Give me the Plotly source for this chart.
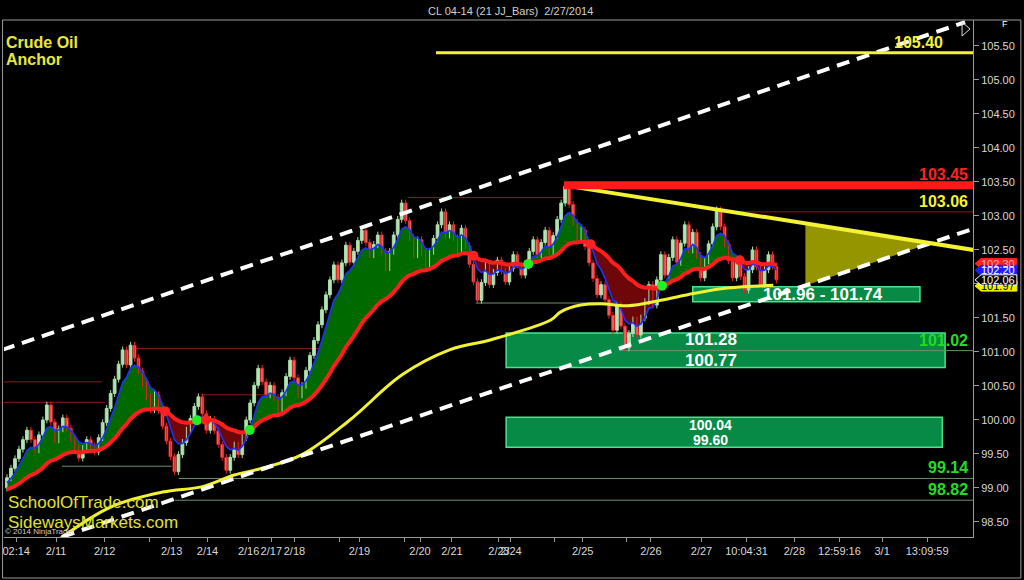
import plotly.graph_objects as go

# ---------------- data ----------------
# closes of the 21 JJ bars (each bar opens at the previous close)
BAR_CLOSES = [
    99.15,
    99.29, 99.43, 99.57, 99.71, 99.85,
    99.71, 99.56,
    99.78, 100.00, 100.22,
    99.97, 99.71,
    99.87, 100.03,
    99.88, 99.73, 99.59, 99.44,
    99.58, 99.71,
    99.62, 99.53,
    99.74, 99.96, 100.17, 100.39, 100.60, 100.82, 101.03,
    100.81,
    101.10,
    100.91, 100.72, 100.53, 100.34, 100.15,
    100.37,
    100.14, 99.91, 99.69, 99.46, 99.24,
    99.49,
    99.67, 99.85, 100.02, 100.20, 100.34,
    100.09, 99.85,
    100.01,
    99.84, 99.64, 99.45, 99.26,
    99.45, 99.63,
    99.49,
    99.74, 100.00, 100.25, 100.51, 100.76,
    100.56, 100.37,
    100.51,
    100.33, 100.15,
    100.40, 100.64, 100.88,
    100.62, 100.37,
    100.51,
    100.73, 100.95, 101.17, 101.40, 101.62, 101.84, 102.06, 102.28,
    102.06,
    102.31, 102.57,
    102.32,
    102.48, 102.64, 102.79,
    102.61, 102.43,
    102.58, 102.72,
    102.48, 102.24,
    102.48, 102.72, 102.95, 103.19,
    102.93, 102.68, 102.43,
    102.65,
    102.46, 102.28,
    102.48, 102.67, 102.87, 103.06,
    102.72,
    102.87,
    102.68, 102.50,
    102.82,
    102.56, 102.29, 102.03, 101.76,
    102.02, 102.28,
    101.99,
    102.17, 102.35,
    102.19, 102.03,
    102.23, 102.43,
    102.28, 102.13,
    102.30, 102.48, 102.65,
    102.43,
    102.61, 102.79,
    102.47,
    102.71, 102.95, 103.19, 103.43,
    103.17, 102.91, 102.65,
    102.79,
    102.55, 102.31, 102.08, 101.84,
    101.99,
    101.77, 101.54, 101.32,
    101.69,
    101.38, 101.06,
    101.27, 101.47,
    101.25,
    101.50, 101.74, 101.99,
    101.69,
    102.06, 102.43,
    102.13,
    102.39, 102.65,
    102.32,
    102.60, 102.87,
    102.50,
    102.76,
    102.42, 102.09,
    102.34, 102.59, 102.84, 103.09,
    102.84, 102.59, 102.34, 102.09,
    102.32,
    102.11, 101.91,
    102.21, 102.50,
    102.25, 101.99,
    102.21, 102.43,
    102.26, 102.06,
]
FIRST_OPEN = 99.00
WICK = 0.05

# moving averages: fast (blue) and slow (red) EMAs with their starting values
FAST_PERIOD, FAST_SEED = 6, 99.05
SLOW_PERIOD, SLOW_SEED = 30, 98.97

# long anchor average (yellow)
ANCHOR_BAR = [12, 26, 39, 49, 57, 64, 74, 86, 99, 111, 121.4, 136.4, 138.9, 143.9,
              148.9, 155.7, 164, 172.2, 180.7, 192.2]
ANCHOR_VAL = [98.20, 98.72, 98.94, 99.02, 99.19, 99.29, 99.49, 100.00, 100.66, 101.03,
              101.18, 101.47, 101.59, 101.69, 101.71, 101.68, 101.76, 101.86, 101.94, 101.98]

# support / resistance zones: (top, bottom, first bar, last bar)
ZONES = [(101.96, 101.74, 172.0, 229.0),
         (101.28, 100.77, 125.2, 235.3),
         (100.04, 99.60, 125.2, 234.6)]

# swing-high (red) and swing-low (grey) reference lines: (price, from bar, to bar)
SWING_HIGHS = [(100.56, -1, 23.8), (100.26, -1, 24.5), (101.05, 31.3, 85.1),
               (100.37, 48.8, 65.1), (103.27, 100.6, 139.7), (103.06, 179.0, 243)]
SWING_LOWS = [(99.32, 13.8, 41.3), (99.14, 43.1, 243), (98.82, 42.1, 243),
              (101.72, 117.6, 153.9), (101.02, 153.9, 243)]

# drawn channel and trend lines: ((bar, price), (bar, price))
UPPER_CHANNEL = ((-1.25, 101.03), (240.3, 105.85))
LOWER_CHANNEL = ((13.77, 98.28), (243.0, 102.825))
DOWN_TREND = ((139.7, 103.45), (243.0, 102.495))
WEDGE_START = 200.25
LEVEL_HIGH = (105.40, 107.6)
LEVEL_RED = (103.45, 139.7)

# time axis
TICK_BARS = [2.3, 12.3, 24.5, 35.8, 41.3, 50.3, 60.6, 66.3, 72.1, 83.4, 88.4, 99.6, 103.6,
             111.6, 123.4, 126.4, 137.4, 144.4, 155.4, 161.5, 174.2, 185.5, 197.5, 208.8,
             219.5, 230.8]
TICK_TEXT = ["02:14", "2/11", "2/12", "", "2/13", "2/14", "2/16", "2/17", "2/18", "",
             "2/19", "", "2/20", "2/21", "2/23", "2/24", "", "2/25", "", "2/26", "2/27",
             "10:04:31", "2/28", "12:59:16", "3/1", "13:09:59"]
PRICE_TICKS = [98.5, 99.0, 99.5, 100.0, 100.5, 101.0, 101.5, 102.0, 102.5, 103.0,
               103.5, 104.0, 104.5, 105.0, 105.5]

# right-edge price markers: (price, text, fill, text colour)
MARKERS = [(102.30, "102.30", "#ff2020", "#ffb0b0"),
           (101.97, "101.97", "#f0f000", "#000000"),
           (102.20, "102.20", "#1c1cff", "#ffffff"),
           (102.06, "102.06", "#000000", "#ffffff")]

X_RANGE = (-0.75, 242.3)
Y_RANGE = (98.279, 105.882)

FONT = "Arial, Liberation Sans, sans-serif"

# ---------------- derived series ----------------
n = len(BAR_CLOSES)
bars = list(range(n))
opens = [FIRST_OPEN] + BAR_CLOSES[:-1]
highs = [max(o, c) + WICK for o, c in zip(opens, BAR_CLOSES)]
lows = [min(o, c) - WICK for o, c in zip(opens, BAR_CLOSES)]


def ema(values, period, seed):
    a = 2.0 / (period + 1)
    out, e = [], seed
    for v in values:
        e += a * (v - e)
        out.append(e)
    return out


fast = ema(BAR_CLOSES, FAST_PERIOD, FAST_SEED)
slow = ema(BAR_CLOSES, SLOW_PERIOD, SLOW_SEED)

# split the band between the two averages into up / down pieces
segments, crossings = [], []
sign = fast[0] >= slow[0]
cx, ct, cb = [0], [fast[0]], [slow[0]]
for i in range(1, n):
    s = fast[i] >= slow[i]
    if s != sign:
        d0 = fast[i - 1] - slow[i - 1]
        d1 = fast[i] - slow[i]
        t = d0 / (d0 - d1)
        xc = i - 1 + t
        yc = slow[i - 1] + t * (slow[i] - slow[i - 1])
        cx.append(xc); ct.append(yc); cb.append(yc)
        segments.append((sign, cx, ct, cb))
        crossings.append((xc, yc, s))
        cx, ct, cb = [xc], [yc], [yc]
        sign = s
    cx.append(i); ct.append(fast[i]); cb.append(slow[i])
segments.append((sign, cx, ct, cb))

fig = go.Figure()

for up, color in ((True, "#006a00"), (False, "#6e0808")):
    px_, py_ = [], []
    for s, xs, ts, bs in segments:
        if s != up:
            continue
        px_ += xs + xs[::-1] + [None]
        py_ += ts + bs[::-1] + [None]
    fig.add_trace(go.Scatter(x=px_, y=py_, mode="lines", fill="toself",
                             fillcolor=color, line=dict(width=0), hoverinfo="skip"))

# bars: wicks, then bodies, split by direction
for rising, body, edge in ((True, "#c6eec6", "#a6dca6"), (False, "#f3a8a8", "#e32222")):
    idx = [i for i in bars if (BAR_CLOSES[i] >= opens[i]) == rising]
    wx, wy = [], []
    for i in idx:
        wx += [i, i, None]
        wy += [lows[i], highs[i], None]
    fig.add_trace(go.Scatter(x=wx, y=wy, mode="lines", line=dict(color=edge, width=1),
                             hoverinfo="skip"))
    fig.add_trace(go.Bar(x=idx,
                         y=[abs(BAR_CLOSES[i] - opens[i]) for i in idx],
                         base=[min(BAR_CLOSES[i], opens[i]) for i in idx],
                         width=0.7, marker=dict(color=body, line=dict(color=edge, width=1)),
                         hoverinfo="skip"))

fig.add_trace(go.Scatter(x=bars, y=fast, mode="lines",
                         line=dict(color="#2030ff", width=1.6), hoverinfo="skip"))
fig.add_trace(go.Scatter(x=bars, y=slow, mode="lines",
                         line=dict(color="#ff1e1e", width=4, shape="spline"),
                         hoverinfo="skip"))
fig.add_trace(go.Scatter(x=ANCHOR_BAR, y=ANCHOR_VAL, mode="lines",
                         line=dict(color="#f2f234", width=3, shape="spline"),
                         hoverinfo="skip"))
fig.add_trace(go.Scatter(
    x=[c[0] for c in crossings], y=[c[1] for c in crossings], mode="markers",
    marker=dict(size=10, color=["#22ee22" if c[2] else "#ff2020" for c in crossings]),
    hoverinfo="skip"))

shapes = []
# zones
for top, bot, x0, x1 in ZONES:
    shapes.append(dict(type="rect", xref="x", yref="y", x0=x0, x1=x1, y0=bot, y1=top,
                       fillcolor="#078a45", line=dict(color="#4fe08e", width=1.5),
                       layer="below"))
# swing lines
for p, x0, x1 in SWING_HIGHS:
    shapes.append(dict(type="line", xref="x", yref="y", x0=x0, x1=x1, y0=p, y1=p,
                       line=dict(color="#8e1c1c", width=1), layer="below"))
for p, x0, x1 in SWING_LOWS:
    shapes.append(dict(type="line", xref="x", yref="y", x0=x0, x1=x1, y0=p, y1=p,
                       line=dict(color="#6f8f6f", width=1), layer="below"))


def line_at(line, x):
    (x0, y0), (x1, y1) = line
    return y0 + (y1 - y0) * (x - x0) / (x1 - x0)


# wedge between the down trend and the lower channel
(ax0, ay0), (ax1, ay1) = DOWN_TREND
(bx0, by0), (bx1, by1) = LOWER_CHANNEL
ma = (ay1 - ay0) / (ax1 - ax0)
mb = (by1 - by0) / (bx1 - bx0)
xi = (by0 - mb * bx0 - ay0 + ma * ax0) / (ma - mb)
yi = line_at(DOWN_TREND, xi)
shapes.append(dict(type="path", xref="x", yref="y",
                   path=f"M {WEDGE_START},{line_at(DOWN_TREND, WEDGE_START)} "
                        f"L {xi},{yi} L {WEDGE_START},{line_at(LOWER_CHANNEL, WEDGE_START)} Z",
                   fillcolor="rgba(165,165,0,0.9)", line=dict(width=0), layer="above"))

for ln in (UPPER_CHANNEL, LOWER_CHANNEL):
    shapes.append(dict(type="line", xref="x", yref="y", x0=ln[0][0], y0=ln[0][1],
                       x1=ln[1][0], y1=ln[1][1],
                       line=dict(color="#ffffff", width=4, dash="13px,8px"), layer="above"))
shapes.append(dict(type="line", xref="x", yref="y", x0=DOWN_TREND[0][0], y0=DOWN_TREND[0][1],
                   x1=DOWN_TREND[1][0], y1=DOWN_TREND[1][1],
                   line=dict(color="#f4f232", width=4), layer="above"))
shapes.append(dict(type="line", xref="x", yref="y", x0=LEVEL_RED[1], x1=X_RANGE[1],
                   y0=LEVEL_RED[0], y1=LEVEL_RED[0],
                   line=dict(color="#ff1a1a", width=8), layer="above"))
shapes.append(dict(type="line", xref="x", yref="y", x0=LEVEL_HIGH[1], x1=X_RANGE[1],
                   y0=LEVEL_HIGH[0], y1=LEVEL_HIGH[0],
                   line=dict(color="#f4f232", width=3), layer="above"))

# outer frame and small controls
shapes.append(dict(type="rect", xref="paper", yref="paper", x0=-0.0015, x1=1.0494,
                   y0=-0.0793, y1=1.0, line=dict(color="#9a9a9a", width=1)))
shapes.append(dict(type="path", xref="paper", yref="paper",
                   path="M 0.9887,0.9961 L 0.9969,0.9826 L 0.9887,0.9691 Z",
                   line=dict(color="#dddddd", width=1)))

# right-edge price markers
for p, label, fill, tcol in MARKERS:
    h = 0.075
    shapes.append(dict(type="path", xref="paper", yref="y",
                       path=f"M 1.0021,{p} L 1.0083,{p + h} L 1.0453,{p + h} "
                            f"L 1.0453,{p - h} L 1.0083,{p - h} Z",
                       fillcolor=fill, line=dict(color="#ffffff" if fill == "#000000" else fill,
                                                 width=1)))

ann = []


def txt(x, y, s, size, color, xref="paper", yref="paper", xa="left", ya="middle", bold=False):
    ann.append(dict(x=x, y=y, xref=xref, yref=yref, text=f"<b>{s}</b>" if bold else s,
                    showarrow=False, xanchor=xa, yanchor=ya,
                    font=dict(family=FONT, size=size, color=color)))


txt(0.523, 1.017, "CL 04-14 (21 JJ_Bars)  2/27/2014", 11, "#cfcfcf", xa="center")
txt(0.0, 0.957, "Crude Oil", 16, "#e8e83a", bold=True)
txt(0.0, 0.923, "Anchor", 16, "#e8e83a", bold=True)
txt(0.002, 0.0658, "SchoolOfTrade.com", 17, "#e0e034")
txt(0.002, 0.0271, "SidewaysMarkets.com", 17, "#e0e034")
txt(-0.001, 0.0097, "© 2014 NinjaTrader", 8, "#cfcfcf")
txt(1.033, 0.992, "F", 9, "#ffffff", xa="center")

txt(0.9712, LEVEL_HIGH[0], "105.40", 16, "#f4f232", yref="y", xa="right", ya="bottom", bold=True)
txt(0.9969, LEVEL_RED[0], "103.45", 16, "#ff2020", yref="y", xa="right", ya="bottom", bold=True)
txt(0.9969, 103.06, "103.06", 16, "#f4f232", yref="y", xa="right", ya="bottom", bold=True)
txt(0.9969, 101.02, "101.02", 16, "#22dd22", yref="y", xa="right", ya="bottom", bold=True)
txt(0.9969, 99.14, "99.14", 16, "#22dd22", yref="y", xa="right", ya="bottom", bold=True)
txt(0.9969, 98.82, "98.82", 16, "#22dd22", yref="y", xa="right", ya="bottom", bold=True)

txt(204.8, 101.85, "101.96 - 101.74", 17, "#ffffff", xref="x", yref="y", xa="center", bold=True)
txt(176.5, 101.18, "101.28", 17, "#ffffff", xref="x", yref="y", xa="center", bold=True)
txt(176.5, 100.88, "100.77", 17, "#ffffff", xref="x", yref="y", xa="center", bold=True)
txt(176.5, 99.93, "100.04", 14, "#ffffff", xref="x", yref="y", xa="center", bold=True)
txt(176.5, 99.70, "99.60", 14, "#ffffff", xref="x", yref="y", xa="center", bold=True)

for p, label, fill, tcol in MARKERS:
    txt(1.026, p, label, 11, tcol, yref="y", xa="center")

fig.update_layout(
    width=1024, height=580,
    margin=dict(l=2, r=51, t=20, b=43),
    paper_bgcolor="#000000", plot_bgcolor="#000000",
    showlegend=False, hovermode=False, barmode="overlay",
    shapes=shapes, annotations=ann,
    xaxis=dict(range=list(X_RANGE),
               tickvals=TICK_BARS, ticktext=TICK_TEXT, tickangle=0,
               ticks="outside", ticklen=4, tickcolor="#9a9a9a",
               showline=True, linecolor="#9a9a9a", showgrid=False, zeroline=False,
               tickfont=dict(family=FONT, size=11, color="#d8d8d8")),
    yaxis=dict(range=list(Y_RANGE), side="right", tickvals=PRICE_TICKS,
               ticktext=[f"{v:.2f}" for v in PRICE_TICKS],
               ticks="outside", ticklen=5, tickcolor="#9a9a9a",
               showline=True, linecolor="#9a9a9a", showgrid=False, zeroline=False,
               tickfont=dict(family=FONT, size=11, color="#d8d8d8")),
)

fig.write_html("out.html")
